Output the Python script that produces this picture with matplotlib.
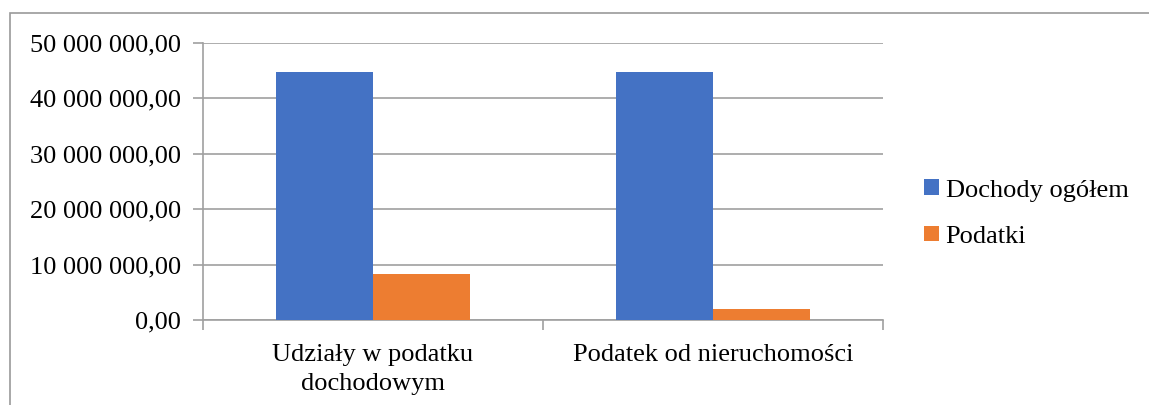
import matplotlib.pyplot as plt
import numpy as np
from matplotlib.patches import Rectangle

# dane
kategorie = ['Udziały w podatku\ndochodowym', 'Podatek od nieruchomości']
dochody_ogolem = [44_750_000, 44_750_000]
podatki = [8_300_000, 2_000_000]
serie = ['Dochody ogółem', 'Podatki']
kolory = ['#4472C4', '#ED7D31']
ticki_y = [0, 10_000_000, 20_000_000, 30_000_000, 40_000_000, 50_000_000]

plt.rcParams['font.family'] = ['Liberation Serif', 'DejaVu Serif']

W, H = 1149, 405
fig = plt.figure(figsize=(W / 100, H / 100), dpi=100)

# ramka wykresu (widoczna tylko lewa i górna krawędź)
fig.patches.append(Rectangle((10 / W, -0.1), 1.2, (H - 13) / H + 0.1,
                             transform=fig.transFigure, fill=False,
                             edgecolor='#9a9a9a', linewidth=1.2))

ax = fig.add_axes([203 / W, 85 / H, 680 / W, 277 / H])

x = np.arange(len(kategorie))
szer = 0.285
ax.bar(x - szer / 2, dochody_ogolem, szer, color=kolory[0], label=serie[0], zorder=3)
ax.bar(x + szer / 2, podatki, szer, color=kolory[1], label=serie[1], zorder=3)

ax.set_xlim(-0.5, len(kategorie) - 0.5)
ax.set_ylim(0, 50_000_000)
ax.set_yticks(ticki_y)
ax.set_yticklabels([f'{v:,.2f}'.replace(',', ' ').replace('.', ',') for v in ticki_y])
ax.set_xticks(x)
ax.set_xticklabels(kategorie)
ax.set_xticks([-0.5, 0.5, 1.5], minor=True)

szary = '#a0a0a0'
ax.grid(axis='y', color=szary, linewidth=1.2, zorder=0)
for s in ['top', 'right']:
    ax.spines[s].set_visible(False)
ax.spines['left'].set_color(szary)
ax.spines['bottom'].set_color(szary)
ax.spines['left'].set_linewidth(1.2)
ax.spines['bottom'].set_linewidth(1.2)

ax.tick_params(axis='y', length=7, color=szary, width=1.2, labelsize=19, pad=9)
ax.tick_params(axis='x', which='major', length=0, labelsize=19, pad=17)
ax.tick_params(axis='x', which='minor', length=7, color=szary, width=1.2)
for lab in ax.get_xticklabels():
    lab.set_linespacing(1.45)

ax.legend(loc='center left', bbox_to_anchor=(1.026, 0.384), frameon=False,
          fontsize=19, handlelength=0.55, handleheight=0.55,
          handletextpad=0.25, labelspacing=0.9)

fig.savefig('out.png', dpi=100)
